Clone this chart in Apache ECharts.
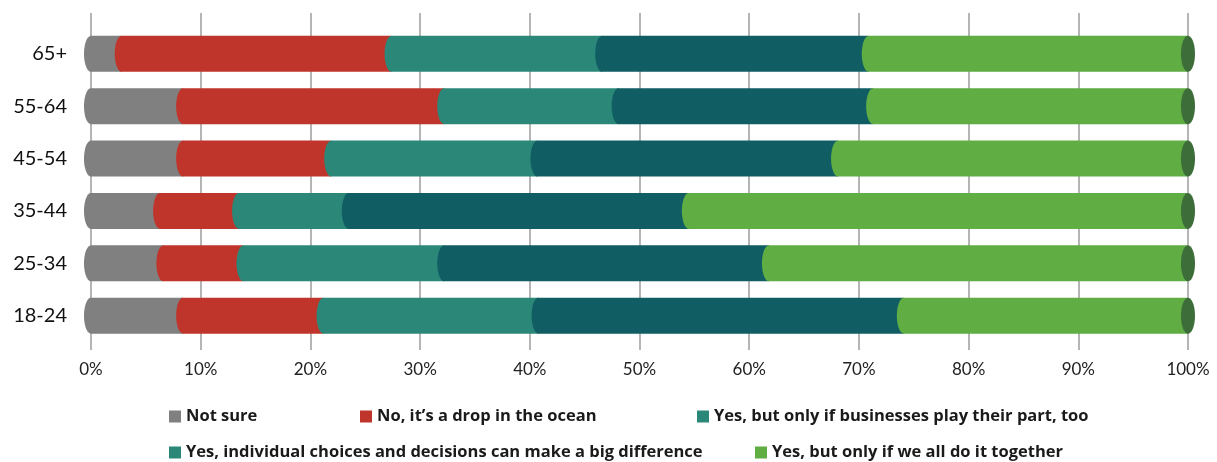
<!DOCTYPE html>
<html>
<head>
<meta charset="utf-8">
<script src="https://cdn.jsdelivr.net/npm/echarts@6/dist/echarts.min.js"></script>
<style>
html,body{margin:0;padding:0;background:#fff;}
#chart{width:1217px;height:462px;}
</style>
</head>
<body>
<div id="chart"></div>
<script>
// Categories bottom-to-top
const categories = ['18-24', '25-34', '35-44', '45-54', '55-64', '65+'];
const seriesNames = [
  'Not sure',
  'No, it\u2019s a drop in the ocean',
  'Yes, but only if businesses play their part, too',
  'Yes, individual choices and decisions can make a big difference',
  'Yes, but only if we all do it together'
];
// Percent values per series, in category order
const notSure      = [8.4, 6.6, 6.3, 8.4, 8.4, 2.8];
const dropInOcean  = [12.8, 7.3, 7.2, 13.5, 23.8, 24.6];
const businesses   = [19.6, 18.3, 10.0, 18.8, 15.9, 19.2];
const individual   = [33.3, 29.6, 31.0, 27.4, 23.2, 24.3];
const together     = [25.9, 38.2, 45.5, 31.9, 28.7, 29.1];
const xTicks = [0, 10, 20, 30, 40, 50, 60, 70, 80, 90, 100];

const allValues = [notSure, dropInOcean, businesses, individual, together];
const colors = ['#808080', '#c0352b', '#2b8878', '#105e64', '#5fad43'];
const legendColors = ['#808080', '#c0352b', '#2b8878', '#2b8878', '#5fad43'];
const capColor = '#3d6e3a';
const RX = 7;

function halfEllipse(cx, cy, rx, ry, n) {
  const pts = [];
  for (let i = 0; i <= n; i++) {
    const a = Math.PI / 2 + Math.PI * i / n; // top -> left -> bottom
    pts.push([cx + rx * Math.cos(a), cy - ry * Math.sin(a)]);
  }
  return pts;
}
function fullEllipse(cx, cy, rx, ry, n) {
  const pts = [];
  for (let i = 0; i < n; i++) {
    const a = 2 * Math.PI * i / n;
    pts.push([cx + rx * Math.cos(a), cy + ry * Math.sin(a)]);
  }
  return pts;
}

const cum = categories.map(() => 0);
const series = allValues.map((vals, si) => {
  const data = vals.map((v, ci) => {
    const s = cum[ci];
    cum[ci] += v;
    return [s, s + v, ci];
  });
  const isLast = si === allValues.length - 1;
  return {
    name: seriesNames[si],
    type: 'custom',
    xAxisIndex: 0,
    yAxisIndex: 0,
    itemStyle: { color: colors[si] },
    encode: { x: [0, 1], y: 2 },
    data: data,
    z: 2 + si,
    renderItem: function (params, api) {
      const p0 = api.coord([api.value(0), api.value(2)]);
      const p1 = api.coord([api.value(1), api.value(2)]);
      const band = api.size([0, 1])[1];
      const h = band * 0.688;
      const cy = p0[1];
      const top = cy - h / 2, bottom = cy + h / 2;
      const pts = halfEllipse(p0[0], cy, RX, h / 2, 24);
      pts.push([p1[0], bottom]);
      pts.push([p1[0], top]);
      const children = [{
        type: 'polygon',
        shape: { points: pts },
        style: { fill: colors[si] }
      }];
      if (isLast) {
        children.push({
          type: 'polygon',
          shape: { points: fullEllipse(p1[0], cy, RX, h / 2, 40) },
          style: { fill: capColor }
        });
      }
      return { type: 'group', children: children };
    }
  };
});

const legendPos = [
  { left: 169, top: 408 },
  { left: 360, top: 408 },
  { left: 697, top: 408 },
  { left: 169, top: 444 },
  { left: 755, top: 444 }
];
const legends = seriesNames.map((n, i) => ({
  left: legendPos[i].left,
  top: legendPos[i].top,
  padding: 0,
  itemWidth: 12,
  itemHeight: 12,
  itemGap: 6,
  icon: 'rect',
  textStyle: { fontFamily: 'Open Sans', fontWeight: 'bold', fontSize: 16.5, color: '#1a1a1a', padding: [0, 0, 0, 0] },
  data: [{ name: n, icon: 'rect', itemStyle: { color: legendColors[i] } }]
}));

const chart = echarts.init(document.getElementById('chart'), null, { renderer: 'canvas' });
chart.setOption({
  animation: false,
  backgroundColor: '#ffffff',
  legend: legends,
  grid: [
    { left: 91, right: 29, top: 27.6, height: 314.3 },
    { left: 91, right: 29, top: 13, height: 337 }
  ],
  xAxis: [
    { type: 'value', gridIndex: 0, min: 0, max: 100, show: false },
    {
      type: 'value', gridIndex: 1, min: 0, max: 100, interval: 10,
      axisLine: { show: false }, axisTick: { show: false },
      splitLine: { show: true, lineStyle: { color: '#9c9c9c', width: 1.5 } },
      axisLabel: {
        margin: 11, fontFamily: 'Lato', fontSize: 17, color: '#222',
        formatter: function (v) { return xTicks.indexOf(v) >= 0 ? v + '%' : ''; }
      }
    }
  ],
  yAxis: [
    {
      type: 'category', gridIndex: 0, data: categories,
      axisLine: { show: false }, axisTick: { show: false },
      splitLine: { show: false },
      axisLabel: { margin: 24, fontFamily: 'Lato', fontSize: 20, color: '#111' }
    },
    { type: 'value', gridIndex: 1, show: false, min: 0, max: 1 }
  ],
  series: series
});
</script>
</body>
</html>
